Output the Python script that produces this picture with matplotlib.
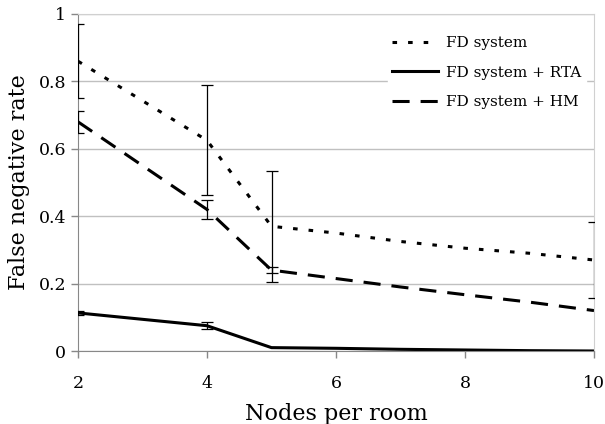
import matplotlib
matplotlib.use('Agg')
import matplotlib.pyplot as plt

nodes = [2, 4, 5, 6, 7, 8, 9, 10]

fd = [0.86, 0.625, 0.37, 0.35, 0.325, 0.305, 0.29, 0.27]
fd_rta = [0.113, 0.075, 0.01, 0.008, 0.005, 0.003, 0.001, 0.0]
fd_hm = [0.68, 0.42, 0.24, 0.215, 0.19, 0.167, 0.145, 0.12]

# error bars only exist at 2, 4, 5 and 10 nodes
err_x = [2, 4, 5, 10]
fd_err = [0.11, 0.163, 0.165, 0.112]
rta_err = [0.006, 0.01, 0.0, 0.0]
hm_err = [0.033, 0.028, 0.009, 0.0]

plt.rcParams['font.family'] = ['DejaVu Serif']

fig = plt.figure(figsize=(6.05, 4.24), dpi=100)
ax = fig.add_axes([78 / 605, 1 - 351 / 424, 516 / 605, 337 / 424])

lw = 2.2
ax.plot(nodes, fd, color='black', lw=lw, linestyle=(0, (1.5, 3.6)), label='FD system')
ax.plot(nodes, fd_rta, color='black', lw=lw, linestyle='-', label='FD system + RTA')
ax.plot(nodes, fd_hm, color='black', lw=lw, linestyle=(0, (5.6, 3.6)), label='FD system + HM')

def pick(xs, ys):
    return [ys[nodes.index(x)] for x in xs]

for vals, err in [(fd, fd_err), (fd_rta, rta_err), (fd_hm, hm_err)]:
    xs = [x for x, e in zip(err_x, err) if e > 0]
    es = [e for e in err if e > 0]
    ax.errorbar(xs, pick(xs, vals), yerr=es, fmt='none', ecolor='black',
                elinewidth=0.9, capsize=4.5, capthick=0.9, zorder=4)

ax.set_xlim(2, 10)
ax.set_ylim(0, 1)
ax.set_xticks([2, 4, 6, 8, 10])
ax.set_yticks([0, 0.2, 0.4, 0.6, 0.8, 1])
ax.set_yticklabels(['0', '0.2', '0.4', '0.6', '0.8', '1'])
ax.yaxis.grid(True, color='#c0c0c0', lw=1)
ax.set_axisbelow(True)

for s in ['top', 'right']:
    ax.spines[s].set_color('#d0d0d0')
for s in ['left', 'bottom']:
    ax.spines[s].set_color('#888888')
ax.tick_params(axis='both', colors='#888888', labelcolor='black', labelsize=12.5,
               length=5, width=1)
ax.tick_params(axis='x', pad=12)

ax.set_xlabel('Nodes per room', fontsize=16, labelpad=8)
ax.set_ylabel('False negative rate', fontsize=16, labelpad=6)

leg = ax.legend(loc='upper right', bbox_to_anchor=(0.99, 0.956), frameon=True,
                fontsize=11, handlelength=2.95, handletextpad=0.55,
                labelspacing=1.0, borderaxespad=0.2, borderpad=0.3)
leg.get_frame().set_edgecolor('white')
leg.get_frame().set_alpha(1)
leg.get_frame().set_boxstyle('square', pad=0)

fig.savefig('out.png', dpi=100)
